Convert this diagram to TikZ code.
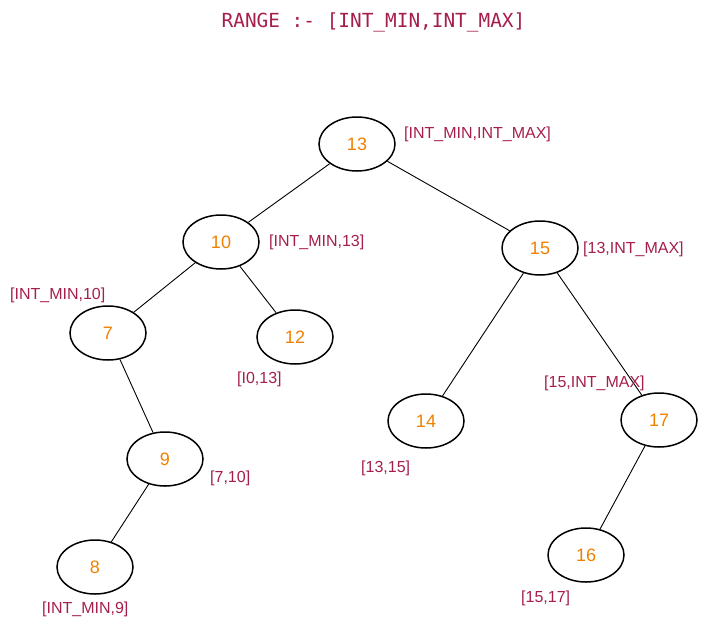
\documentclass[tikz,border=0pt]{standalone}
\usepackage{fontspec}
\setmainfont{Liberation Sans}
\newfontfamily\monof{DejaVu Sans Mono}
\usetikzlibrary{shapes.geometric}
\definecolor{crim}{HTML}{A61E4D}
\definecolor{orng}{HTML}{F08000}
\begin{document}
\begin{tikzpicture}[x=1pt,y=-1pt,
  bst/.style={ellipse,draw=black,line width=1.5pt,minimum width=76pt,minimum height=54pt,inner sep=0pt,
     text=orng,font=\fontsize{18}{18}\selectfont},
  rng/.style={text=crim,font=\fontsize{16}{16}\selectfont,inner sep=0pt},
  edge/.style={draw=black,line width=0.9pt}]
\useasboundingbox (0,0) rectangle (708,626);
\node[text=crim,font=\monof\fontsize{19.4}{20}\selectfont,inner sep=0pt] (title) at (373.5,22) {RANGE :- [INT\_MIN,INT\_MAX]};
\node[bst] (n13) at (357,144) {13};
\node[bst] (n10) at (221,242) {10};
\node[bst] (n7) at (108,333) {7};
\node[bst] (n12) at (295,337) {12};
\node[bst] (n9) at (165,459) {9};
\node[bst] (n8) at (95,567) {8};
\node[bst] (n15) at (540,248) {15};
\node[bst] (n14) at (426,421) {14};
\node[bst] (n17) at (659,420) {17};
\node[bst] (n16) at (586,555) {16};
\draw[edge] (n13) -- (n10);
\draw[edge] (n13) -- (n15);
\draw[edge] (n10) -- (n7);
\draw[edge] (n10) -- (n12);
\draw[edge] (n7) -- (n9);
\draw[edge] (n9) -- (n8);
\draw[edge] (n15) -- (n14);
\draw[edge] (n15) -- (n17);
\draw[edge] (n17) -- (n16);
\node[rng,anchor=west] (r13) at (404,134) {[INT\_MIN,INT\_MAX]};
\node[rng,anchor=west] (r10) at (269,242) {[INT\_MIN,13]};
\node[rng,anchor=west] (r7) at (10,295) {[INT\_MIN,10]};
\node[rng,anchor=west] (r12) at (237,379) {[I0,13]};
\node[rng,anchor=west] (r9) at (210,478) {[7,10]};
\node[rng,anchor=west] (r8) at (42,609) {[INT\_MIN,9]};
\node[rng,anchor=west] (r14) at (361,468) {[13,15]};
\node[rng,anchor=west] (r15) at (583,249) {[13,INT\_MAX]};
\node[rng,anchor=west] (r17) at (544,383) {[15,INT\_MAX]};
\node[rng,anchor=west] (r16) at (521,598) {[15,17]};
\end{tikzpicture}
\end{document}
